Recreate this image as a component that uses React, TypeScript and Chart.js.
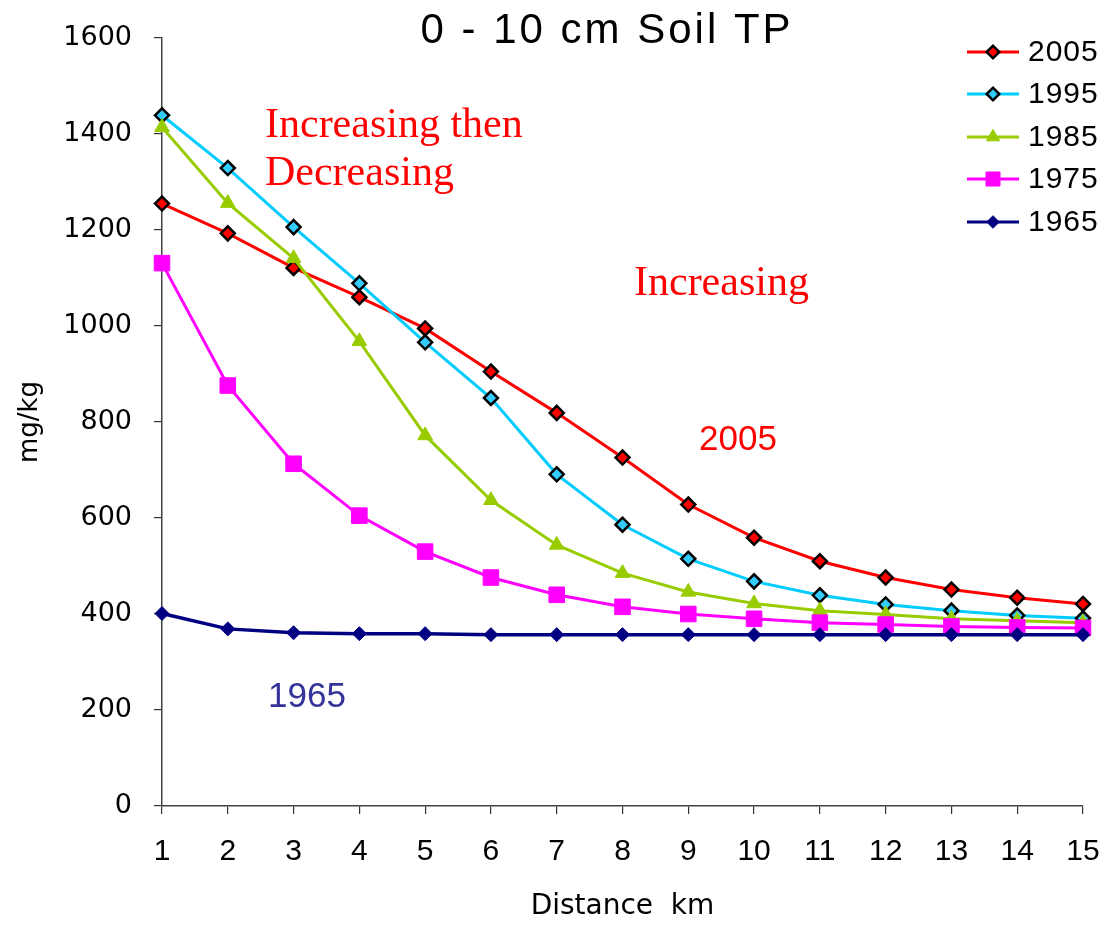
import React, { useEffect, useRef } from 'react';
import { Chart, registerables } from 'chart.js';

Chart.register(...registerables);

const chartTitle = '0 - 10 cm Soil TP';
const xAxisTitle = 'Distance  km';
const yAxisTitle = 'mg/kg';

const distances = ['1', '2', '3', '4', '5', '6', '7', '8', '9', '10', '11', '12', '13', '14', '15'];

const seriesNames = ['2005', '1995', '1985', '1975', '1965'];

const tp2005 = [1255, 1193, 1121, 1060, 995, 905, 819, 726, 628, 559, 510, 476, 451, 434, 421];
const tp1995 = [1439, 1329, 1206, 1089, 966, 850, 691, 586, 515, 468, 439, 420, 407, 397, 391];
const tp1985 = [1414, 1256, 1141, 968, 772, 637, 544, 485, 446, 422, 407, 399, 390, 386, 382];
const tp1975 = [1131, 876, 713, 605, 530, 476, 440, 415, 400, 390, 382, 378, 374, 372, 371];
const tp1965 = [401, 369, 361, 359, 359, 357, 357, 357, 357, 357, 357, 357, 357, 357, 357];

const yMin = 0;
const yMax = 1600;
const yStep = 200;

const lineColors = ['#FF0000', '#00CCFF', '#99CC00', '#FF00FF', '#000080'];
const markerFills = ['#FF0000', '#33CCFF', '#99CC00', '#FF00FF', '#000080'];
const markerBorders = ['#000000', '#000000', '#99CC00', '#FF00FF', '#000080'];
const markerStyles = ['rectRot', 'rectRot', 'triangle', 'rect', 'rectRot'];
const markerRadii = [7, 7, 8.5, 11, 7];
const markerBorderWidths = [2.5, 2.5, 1, 1, 1];

function drawLegendMarker(ctx: CanvasRenderingContext2D, style: string, x: number, y: number, r: number) {
  ctx.beginPath();
  if (style === 'rectRot') {
    ctx.moveTo(x - r, y);
    ctx.lineTo(x, y - r);
    ctx.lineTo(x + r, y);
    ctx.lineTo(x, y + r);
    ctx.closePath();
  } else if (style === 'triangle') {
    ctx.moveTo(x, y - r);
    ctx.lineTo(x + r * 0.866, y + r * 0.5);
    ctx.lineTo(x - r * 0.866, y + r * 0.5);
    ctx.closePath();
  } else {
    const s = r * Math.SQRT1_2;
    ctx.rect(x - s, y - s, 2 * s, 2 * s);
  }
  ctx.fill();
  ctx.stroke();
}

const annotationPlugin = {
  id: 'annotations',
  afterDraw(chart: any) {
    const ctx: CanvasRenderingContext2D = chart.ctx;
    ctx.save();

    // Title
    ctx.fillStyle = '#000000';
    ctx.font = '42px "Liberation Sans", Arial, sans-serif';
    (ctx as any).letterSpacing = '3px';
    ctx.textAlign = 'center';
    ctx.textBaseline = 'alphabetic';
    ctx.fillText(chartTitle, 607, 43);

    // Red serif annotations
    (ctx as any).letterSpacing = '0px';
    ctx.fillStyle = '#FF0000';
    ctx.font = '42px "Liberation Serif", "Times New Roman", serif';
    ctx.textAlign = 'left';
    ctx.fillText('Increasing then', 265, 137);
    ctx.fillText('Decreasing', 265, 185);
    ctx.fillText('Increasing', 634, 295);

    // Series labels
    ctx.font = '35px "Liberation Sans", Arial, sans-serif';
    ctx.textAlign = 'center';
    ctx.fillStyle = '#FF0000';
    ctx.fillText('2005', 738, 450);
    ctx.fillStyle = '#333399';
    ctx.fillText('1965', 307, 707);

    // Legend
    const rowY = [52, 94, 137, 179, 222];
    ctx.font = '30px "Liberation Sans", Arial, sans-serif';
    (ctx as any).letterSpacing = '1px';
    ctx.textAlign = 'left';
    ctx.textBaseline = 'middle';
    seriesNames.forEach((name, i) => {
      const y = rowY[i];
      ctx.strokeStyle = lineColors[i];
      ctx.lineWidth = 3;
      ctx.beginPath();
      ctx.moveTo(967, y);
      ctx.lineTo(1019, y);
      ctx.stroke();
      ctx.fillStyle = markerFills[i];
      ctx.strokeStyle = markerBorders[i];
      ctx.lineWidth = markerBorderWidths[i];
      drawLegendMarker(ctx, markerStyles[i], 993, y, markerRadii[i] * 0.9);
      ctx.fillStyle = '#000000';
      ctx.fillText(name, 1028, y + 1);
    });

    ctx.restore();
  },
};

export default function App() {
  const canvasRef = useRef<HTMLCanvasElement | null>(null);

  useEffect(() => {
    if (!canvasRef.current) return;
    const allData = [tp2005, tp1995, tp1985, tp1975, tp1965];
    const datasets = allData.map((d, i) => ({
      label: seriesNames[i],
      data: d,
      borderColor: lineColors[i],
      backgroundColor: markerFills[i],
      borderWidth: i === 4 ? 3.5 : 3,
      pointStyle: markerStyles[i] as any,
      pointRadius: markerRadii[i],
      pointBackgroundColor: markerFills[i],
      pointBorderColor: markerBorders[i],
      pointBorderWidth: markerBorderWidths[i],
      tension: 0,
      fill: false,
      order: 5 - i,
    }));

    const chart = new Chart(canvasRef.current, {
      type: 'line',
      data: { labels: distances, datasets },
      options: {
        animation: false,
        responsive: true,
        maintainAspectRatio: false,
        layout: { padding: { top: 38, right: 26, left: 0, bottom: 0 } },
        plugins: {
          legend: { display: false },
          title: { display: false },
          tooltip: { enabled: false },
        },
        scales: {
          x: {
            type: 'category',
            offset: false,
            grid: {
              display: true,
              drawOnChartArea: false,
              drawTicks: true,
              tickLength: 8,
              color: '#333333',
              lineWidth: 1.2,
            },
            border: { display: true, color: '#444444', width: 1.5 },
            ticks: {
              color: '#000000',
              font: { family: '"Liberation Sans", Arial, sans-serif', size: 30 },
              padding: 20,
              maxRotation: 0,
              autoSkip: false,
            },
            title: {
              display: true,
              text: xAxisTitle,
              color: '#000000',
              font: { family: '"DejaVu Sans", sans-serif', size: 28, lineHeight: 1 },
              padding: { top: 0, bottom: 7 },
            },
            afterFit: (s: any) => {
              s.height = 122;
              s.paddingLeft = 0;
              s.paddingRight = 0;
            },
          },
          y: {
            type: 'linear',
            min: yMin,
            max: yMax,
            grid: {
              display: true,
              drawOnChartArea: false,
              drawTicks: true,
              tickLength: 8,
              color: '#333333',
              lineWidth: 1.2,
            },
            border: { display: true, color: '#444444', width: 1.5 },
            ticks: {
              stepSize: yStep,
              color: '#000000',
              font: { family: '"DejaVu Sans", sans-serif', size: 27 },
              padding: 22,
              callback: (v: any) => String(v),
            },
            title: {
              display: true,
              text: yAxisTitle,
              color: '#000000',
              font: { family: '"DejaVu Sans", sans-serif', size: 26, lineHeight: 1 },
              padding: { top: 17, bottom: 0 },
            },
            afterFit: (s: any) => {
              s.width = 162;
              s.paddingTop = 0;
              s.paddingBottom = 0;
            },
          },
        },
      },
      plugins: [annotationPlugin],
    });

    return () => {
      chart.destroy();
    };
  }, []);

  return (
    <div style={{ position: 'absolute', left: 0, top: 0, width: 1109, height: 928, background: '#ffffff' }}>
      <canvas ref={canvasRef} />
    </div>
  );
}
